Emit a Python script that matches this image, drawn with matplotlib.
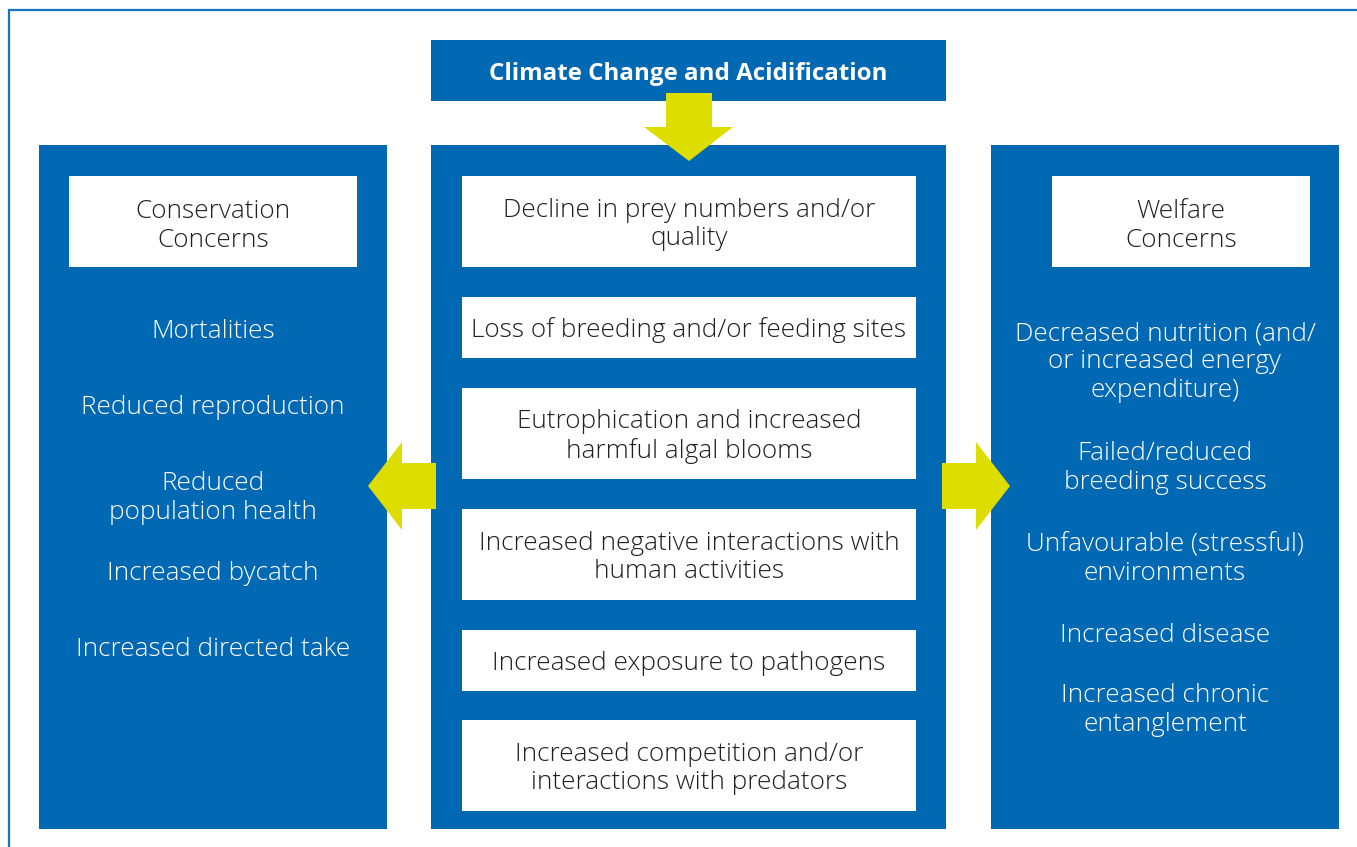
import matplotlib.pyplot as plt
from matplotlib.patches import Rectangle, Polygon

plt.rcParams['font.family'] = ['Open Sans', 'DejaVu Sans']

# Text content
title = 'Climate Change and Acidification'
left_header = 'Conservation\nConcerns'
right_header = 'Welfare\nConcerns'
drivers = [
    'Decline in prey numbers and/or\nquality',
    'Loss of breeding and/or feeding sites',
    'Eutrophication and increased\nharmful algal blooms',
    'Increased negative interactions with\nhuman activities',
    'Increased exposure to pathogens',
    'Increased competition and/or\ninteractions with predators',
]
conservation = [
    'Mortalities',
    'Reduced reproduction',
    'Reduced\npopulation health',
    'Increased bycatch',
    'Increased directed take',
]
welfare = [
    'Decreased nutrition (and/\nor increased energy\nexpenditure)',
    'Failed/reduced\nbreeding success',
    'Unfavourable (stressful)\nenvironments',
    'Increased disease',
    'Increased chronic\nentanglement',
]

# Layout (pixel coordinates, y downwards)
driver_boxes = [(176, 267), (297, 358), (388, 479), (509, 600), (630, 691), (720, 811)]
cons_y = [331, 408, 498, 574, 650]
welf_y = [362, 468, 559, 635, 710]

blue = '#0168b4'
yellow = '#dddd00'
dark = '#231f20'
fs = 18.8
ls = 1.18

W, H = 1357, 847
fig = plt.figure(figsize=(W / 100, H / 100), dpi=100)
ax = fig.add_axes([0, 0, 1, 1])
ax.set_xlim(0, W)
ax.set_ylim(H, 0)
ax.axis('off')


def rect(x0, y0, x1, y1, color):
    ax.add_patch(Rectangle((x0, y0), x1 - x0, y1 - y0, facecolor=color,
                           edgecolor='none'))


def label(x, y, txt, color):
    ax.text(x, y, txt, color=color, fontsize=fs, fontweight='light',
            ha='center', va='center', linespacing=ls)


# outer frame
ax.plot([9, 9, W + 5], [H + 5, 10, 10], color='#1a73c4', lw=1.6,
        solid_capstyle='butt', solid_joinstyle='miter')

# title box
rect(431, 40, 946, 101, blue)
ax.text(688.5, 74, title, color='white', fontsize=17.4, fontweight='bold',
        ha='center', va='center')

# panels
rect(39, 145, 387, 829, blue)
rect(431, 145, 946, 829, blue)
rect(991, 145, 1339, 829, blue)

# down arrow
ax.add_patch(Polygon([(666, 93), (712, 93), (712, 127), (733, 127),
                      (689, 161), (644, 127), (666, 127)],
                     facecolor=yellow, edgecolor='none'))
# left arrow
ax.add_patch(Polygon([(436, 463), (402, 463), (402, 442), (368, 486),
                      (402, 530), (402, 509), (436, 509)],
                     facecolor=yellow, edgecolor='none'))
# right arrow
ax.add_patch(Polygon([(942, 463), (976, 463), (976, 442), (1010, 486),
                      (976, 530), (976, 509), (942, 509)],
                     facecolor=yellow, edgecolor='none'))

# headers
rect(69, 176, 357, 267, 'white')
label(213, 226, left_header, dark)
rect(1052, 176, 1310, 267, 'white')
label(1181, 226, right_header, dark)

# driver boxes
for (y0, y1), txt in zip(driver_boxes, drivers):
    rect(462, y0, 916, y1, 'white')
    label(689, (y0 + y1) / 2 + 3, txt, dark)

for y, txt in zip(cons_y, conservation):
    label(213, y, txt, 'white')

for y, txt in zip(welf_y, welfare):
    label(1165, y, txt, 'white')

fig.savefig('out.png', dpi=100)
